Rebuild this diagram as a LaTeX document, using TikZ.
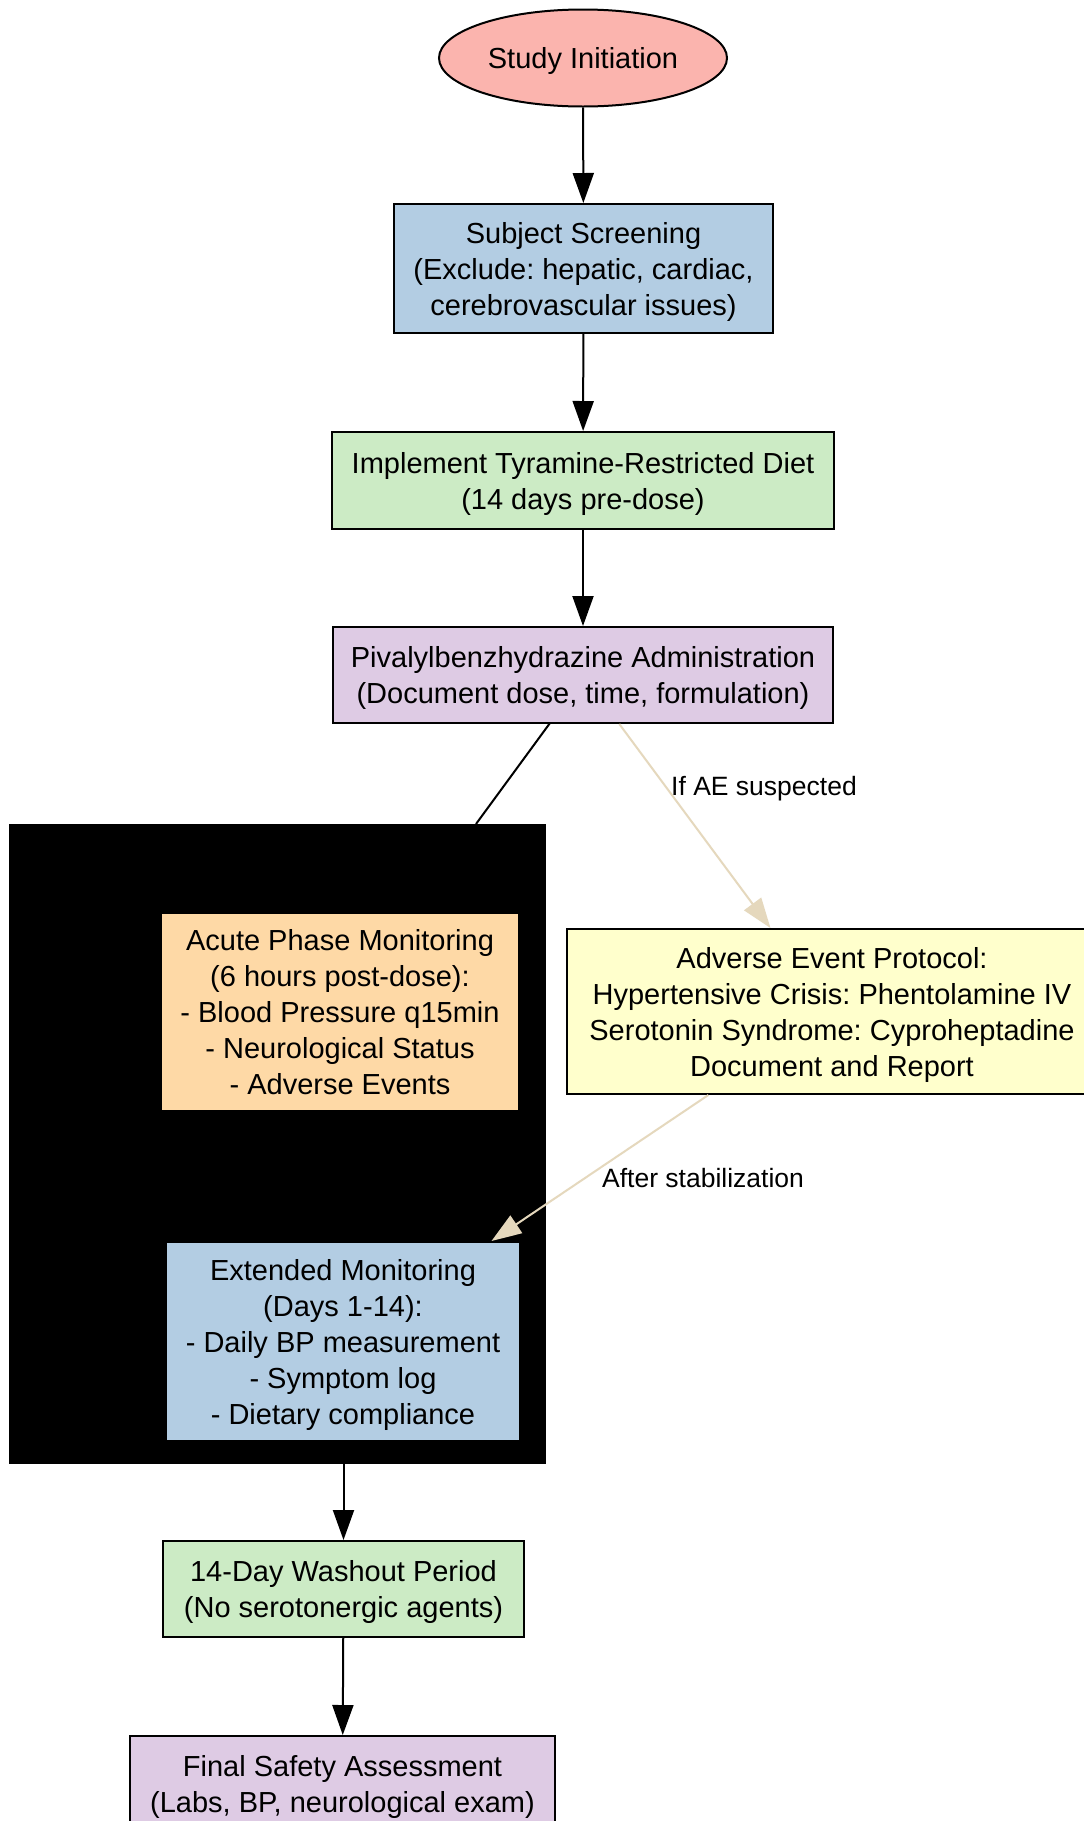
\documentclass[tikz,border=0pt]{standalone}
\usepackage{fontspec}
\setmainfont{Liberation Sans}
\frenchspacing
\usetikzlibrary{shapes.geometric,arrows.meta}
\definecolor{cred}{HTML}{FBB4AE}
\definecolor{cblue}{HTML}{B3CDE3}
\definecolor{cgreen}{HTML}{CCEBC5}
\definecolor{cpurple}{HTML}{DECBE4}
\definecolor{corange}{HTML}{FED9A6}
\definecolor{cyellow}{HTML}{FFFFCC}
\definecolor{ctan}{HTML}{E5D8BD}
\newcommand\tstrut{\rule{0pt}{28pt}}
\newcommand\bstrut{\rule[-7pt]{0pt}{7pt}}
\begin{document}
\begin{tikzpicture}[x=1pt,y=-1pt,
  every node/.style={inner sep=0pt, align=center, font=\fontsize{29}{36}\selectfont\frenchspacing},
  boxnode/.style={draw=black, line width=2pt, rectangle},
  flow/.style={line width=2pt, draw=black, -{Triangle[length=30pt,width=21pt]}},
  tanflow/.style={line width=2pt, draw=ctan, -{Triangle[length=30pt,width=21pt,fill=ctan]}},
  elabel/.style={font=\fontsize{26.5}{32}\selectfont\frenchspacing}
]
\useasboundingbox (0,0) rectangle (1084,1821);
\fill[white] (0,0) rectangle (1084,1821);

\node[ellipse, draw=black, line width=2pt, fill=cred, minimum width=288pt, minimum height=97pt] (start) at (583,58) {\tstrut Study Initiation\bstrut};
\node[boxnode, fill=cblue, minimum width=379pt, minimum height=129pt] (screen) at (583.5,268.5) {\tstrut Subject Screening\\(Exclude: hepatic, cardiac,\\cerebrovascular issues)\bstrut};
\node[boxnode, fill=cgreen, minimum width=502pt, minimum height=97pt] (diet) at (583,480.5) {\tstrut Implement Tyramine-Restricted Diet\\(14 days pre-dose)\bstrut};
\node[boxnode, fill=cpurple, minimum width=500pt, minimum height=96pt] (admin) at (583,675) {\tstrut Pivalylbenzhydrazine Administration\\(Document dose, time, formulation)\bstrut};

\node[rectangle, fill=black, minimum width=537pt, minimum height=640pt] (cl) at (277.5,1144) {};
\node[boxnode, fill=corange, minimum width=358pt, minimum height=198pt] (acute) at (340,1012) {\tstrut Acute Phase Monitoring\\(6 hours post-dose):\\- Blood Pressure q15min\\- Neurological Status\\- Adverse Events\bstrut};
\node[boxnode, fill=cblue, minimum width=354pt, minimum height=199pt] (ext) at (343,1341.5) {\tstrut Extended Monitoring\\(Days 1-14):\\- Daily BP measurement\\- Symptom log\\- Dietary compliance\bstrut};

\node[boxnode, fill=cyellow, minimum width=530pt, minimum height=165pt] (ae) at (832,1011.5) {\tstrut Adverse Event Protocol:\\Hypertensive Crisis: Phentolamine IV\\Serotonin Syndrome: Cyproheptadine\\Document and Report\bstrut};

\node[boxnode, fill=cgreen, minimum width=361pt, minimum height=96pt] (wash) at (343.5,1589) {\tstrut 14-Day Washout Period\\(No serotonergic agents)\bstrut};
\node[boxnode, fill=cpurple, minimum width=425pt, minimum height=96pt] (final) at (342.5,1784) {\tstrut Final Safety Assessment\\(Labs, BP, neurological exam)\bstrut};

\draw[flow] (start) -- (screen);
\draw[flow] (screen) -- (diet);
\draw[flow] (diet) -- (admin);
\coordinate (pe) at (550,723);
\coordinate (ce) at (476,824);
\draw[line width=2pt] (pe) -- (ce);
\draw[tanflow] (admin) -- (ae);
\draw[tanflow] (ae) -- (ext);
\draw[flow] (wash.north |- cl.south) -- (wash);
\draw[flow] (wash) -- (final);

\node[elabel] (l1) at (764,789) {If AE suspected};
\node[elabel] (l2) at (703,1178) {After stabilization};
\end{tikzpicture}
\end{document}
